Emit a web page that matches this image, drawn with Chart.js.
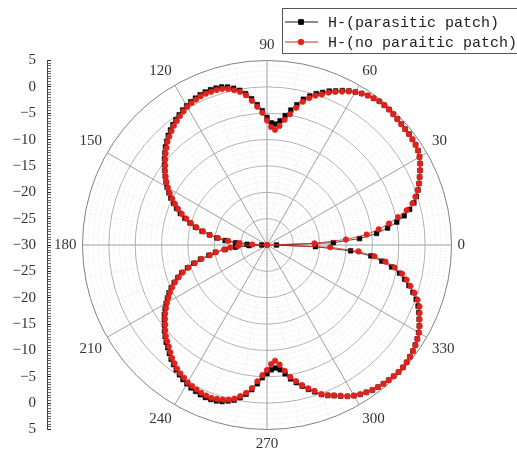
<!DOCTYPE html>
<html>
<head>
<meta charset="utf-8">
<script src="https://cdn.jsdelivr.net/npm/chart.js@4.4.1/dist/chart.umd.min.js"></script>
<style>
  html, body { margin: 0; padding: 0; background: #fff; }
  #wrap { width: 517px; height: 459px; position: relative; }
</style>
</head>
<body>
<div id="wrap"><canvas id="pattern"></canvas></div>
<script>
// angle grid in degrees, 0 at the right, counter-clockwise
const angles = Array.from({ length: 180 }, (_, i) => i * 2);

// gain in dB, one value per angle above (0, 2, 4 ... 358)
const parasitic = [
  -28.2, -17.4, -12.4, -9.1, -6.9, -5.0, -3.4, -2.1, -1.0, -0.2,
  0.5, 1.1, 1.7, 2.3, 2.9, 3.4, 3.8, 4.0, 4.1, 4.2,
  4.2, 4.3, 4.4, 4.5, 4.6, 4.6, 4.6, 4.4, 4.2, 3.9,
  3.5, 3.1, 2.6, 2.0, 1.5, 0.8, 0.2, -0.6, -1.5, -2.8,
  -4.0, -5.2, -6.3, -7.0, -6.8, -5.8, -4.5, -3.3, -2.1, -1.0,
  -0.2, 0.4, 0.9, 1.2, 1.3, 1.35, 1.3, 1.2, 1.0, 0.8,
  0.5, 0.2, -0.2, -0.6, -1.0, -1.5, -2.0, -2.6, -3.2, -3.9,
  -4.6, -5.3, -6.0, -6.7, -7.4, -8.1, -8.9, -9.7, -10.6, -11.5,
  -12.5, -13.6, -14.8, -16.0, -17.4, -18.9, -20.4, -22.0, -24.0, -26.2,
  -29.0, -26.6, -24.0, -22.0, -20.1, -18.8, -17.1, -15.7, -14.3, -13.0,
  -12.0, -11.0, -10.1, -9.3, -8.6, -7.9, -7.2, -6.5, -5.9, -5.3,
  -4.6, -4.0, -3.4, -2.9, -2.3, -1.7, -1.2, -0.7, -0.3, 0.1,
  0.4, 0.7, 0.9, 1.1, 1.2, 1.2, 1.1, 0.9, 0.5, 0.1,
  -0.6, -1.4, -2.4, -3.6, -4.8, -5.6, -6.3, -6.6, -6.2, -5.3,
  -4.2, -3.3, -2.4, -1.5, -0.7, 0.2, 0.8, 1.3, 1.9, 2.5,
  3.0, 3.4, 3.7, 4.0, 4.2, 4.35, 4.5, 4.6, 4.7, 4.7,
  4.6, 4.4, 4.2, 3.9, 3.6, 3.2, 2.7, 2.1, 1.5, 0.9,
  0.1, -0.9, -2.0, -3.1, -4.3, -6.0, -8.0, -10.2, -14.1, -20.8
];

const noParasitic = [
  -30.0, -21.0, -15.0, -11.0, -8.6, -6.5, -4.6, -2.7, -1.3, -0.4,
  0.4, 1.1, 1.7, 2.3, 2.9, 3.4, 3.8, 4.0, 4.1, 4.15,
  4.2, 4.25, 4.35, 4.45, 4.6, 4.65, 4.6, 4.4, 4.2, 3.9,
  3.5, 3.0, 2.4, 1.8, 1.2, 0.4, -0.2, -1.0, -2.0, -3.4,
  -4.8, -6.0, -7.3, -8.1, -7.6, -6.4, -4.9, -3.7, -2.5, -1.3,
  -0.5, 0.0, 0.5, 0.8, 0.9, 0.95, 0.95, 0.9, 0.7, 0.5,
  0.25, -0.1, -0.5, -0.9, -1.3, -1.8, -2.3, -2.8, -3.5, -4.1,
  -4.8, -5.5, -6.1, -6.8, -7.5, -8.3, -9.1, -10.0, -10.9, -11.8,
  -12.8, -13.9, -15.0, -16.2, -17.6, -19.0, -20.6, -22.6, -24.8, -27.2,
  -30.0, -24.5, -23.0, -21.8, -20.2, -19.0, -17.3, -15.9, -14.5, -13.2,
  -12.2, -11.2, -10.3, -9.5, -8.8, -8.1, -7.4, -6.7, -6.1, -5.5,
  -4.8, -4.2, -3.7, -3.2, -2.6, -2.0, -1.5, -1.0, -0.6, -0.3,
  0.1, 0.3, 0.5, 0.7, 0.8, 0.85, 0.7, 0.5, 0.2, -0.2,
  -0.9, -1.7, -2.7, -4.1, -5.3, -6.3, -7.4, -8.0, -7.2, -5.9,
  -4.6, -3.6, -2.6, -1.7, -0.9, 0.1, 0.7, 1.2, 1.8, 2.5,
  3.0, 3.4, 3.7, 4.0, 4.2, 4.35, 4.5, 4.6, 4.7, 4.7,
  4.6, 4.45, 4.25, 4.0, 3.65, 3.3, 2.8, 2.2, 1.7, 1.2,
  0.4, -0.6, -1.7, -2.7, -3.8, -5.4, -7.3, -9.5, -12.6, -18.0
];

const seriesNames = ['H-(parasitic patch)', 'H-(no paraitic patch)'];
const angleTicks = [0, 30, 60, 90, 120, 150, 180, 210, 240, 270, 300, 330];
const radialTicks = [5, 0, -5, -10, -15, -20, -25, -30];

// radar goes clockwise from the top, so reorder to start at 90 and run backwards
const slotIndex = angles.map((_, i) => (45 - i + 180) % 180);
const slotAngles = slotIndex.map(j => angles[j]);

const serif = 'Liberation Serif, Times New Roman, serif';

function minusSign(v) {
    return v < 0 ? '\u2212' + Math.abs(v) : String(v);
}

// the left dB axis has to span the polar circle exactly
const alignAxis = {
    id: 'alignAxis',
    afterLayout(chart) {
        const r = chart.scales.r;
        const y = chart.scales.y;
        y.top = r.yCenter - r.drawingArea;
        y.bottom = r.yCenter + r.drawingArea;
        y.height = y.bottom - y.top;
        y.configure();
    }
};

// boxed legend in the top right corner
const boxLegend = {
    id: 'boxLegend',
    afterDraw(chart) {
        const ctx = chart.ctx;
        ctx.save();
        ctx.fillStyle = '#fff';
        ctx.fillRect(282, 8, 240, 45);
        ctx.strokeStyle = '#555';
        ctx.lineWidth = 1;
        ctx.strokeRect(282.5, 8.5, 240, 45);
        chart.data.datasets.forEach((ds, i) => {
            const y = 22 + i * 20;
            ctx.strokeStyle = ds.borderColor;
            ctx.lineWidth = 1;
            ctx.beginPath();
            ctx.moveTo(285, y);
            ctx.lineTo(318, y);
            ctx.stroke();
            ctx.fillStyle = ds.pointBackgroundColor;
            ctx.strokeStyle = ds.pointBackgroundColor;
            Chart.helpers.drawPoint(ctx, {
                pointStyle: ds.pointStyle,
                radius: ds.pointRadius,
                borderWidth: 0.5,
                rotation: 0
            }, 301, y);
            ctx.fillStyle = '#222';
            ctx.font = '15px "Liberation Mono", monospace';
            ctx.textBaseline = 'middle';
            ctx.textAlign = 'left';
            ctx.fillText(ds.label, 328, y + 1);
        });
        ctx.restore();
    }
};

const ctx = document.getElementById('pattern').getContext('2d');

const patternChart = new Chart(ctx, {
    type: 'radar',
    data: {
        labels: slotAngles,
        datasets: [{
            label: seriesNames[0],
            data: slotIndex.map(j => parasitic[j]),
            borderColor: '#1a1a1a',
            borderWidth: 0.8,
            pointStyle: 'rect',
            pointRadius: 3.3,
            pointBackgroundColor: '#000',
            pointBorderColor: '#000',
            pointBorderWidth: 0.5,
            fill: false,
            order: 1
        }, {
            label: seriesNames[1],
            data: slotIndex.map(j => noParasitic[j]),
            borderColor: '#d9241f',
            borderWidth: 0.8,
            pointStyle: 'circle',
            pointRadius: 2.8,
            pointBackgroundColor: '#e0221c',
            pointBorderColor: '#e0221c',
            pointBorderWidth: 0.5,
            fill: false,
            order: 0
        }]
    },
    options: {
        responsive: true,
        maintainAspectRatio: false,
        animation: false,
        devicePixelRatio: 1,
        layout: {
            padding: { left: 0, top: 32, right: 44, bottom: 1 }
        },
        plugins: {
            legend: { display: false },
            tooltip: { enabled: false }
        },
        elements: {
            line: { tension: 0 }
        },
        scales: {
            r: {
                min: -30,
                max: 5,
                ticks: { display: false, stepSize: 1 },
                grid: {
                    circular: true,
                    lineWidth: 1,
                    color: c => {
                        const v = c.tick.value;
                        if (v === 5) return '#808080';
                        if (v % 5 === 0) return '#b2b2b2';
                        return '#e3e3e3';
                    }
                },
                border: {
                    dash: c => (c.tick && c.tick.value % 5 !== 0 ? [1, 2] : [])
                },
                angleLines: {
                    color: c => {
                        const a = slotAngles[c.index];
                        if (a % 30 === 0) return '#a0a0a0';
                        if (a % 10 === 0) return '#e3e3e3';
                        return 'rgba(0,0,0,0)';
                    },
                    lineWidth: c => (slotAngles[c.index] % 10 === 0 ? 1 : 0),
                    borderDash: c => (slotAngles[c.index] % 30 === 0 ? [] : [1, 2])
                },
                pointLabels: {
                    padding: 6,
                    color: '#333',
                    font: { family: serif, size: 15 },
                    callback: label => (angleTicks.includes(label) ? String(label) : '')
                }
            },
            y: {
                type: 'linear',
                position: 'left',
                min: -35,
                max: 35,
                afterFit: s => {
                    s.width = 47;
                    s.paddingTop = 0;
                    s.paddingBottom = 0;
                },
                border: { display: true, color: '#444', width: 1 },
                grid: {
                    drawOnChartArea: false,
                    drawTicks: true,
                    tickLength: -4,
                    tickWidth: 1,
                    tickColor: c => (c.tick && c.tick.value % 5 === 0 ? '#222' : '#666')
                },
                ticks: {
                    stepSize: 0.5,
                    autoSkip: false,
                    padding: 15,
                    color: '#333',
                    font: { family: serif, size: 15 },
                    callback: v => {
                        const label = Math.abs(v) - 30;
                        return (v % 5 === 0 && radialTicks.includes(label)) ? minusSign(label) : '';
                    }
                }
            }
        }
    },
    plugins: [alignAxis, boxLegend]
});
</script>
</body>
</html>
